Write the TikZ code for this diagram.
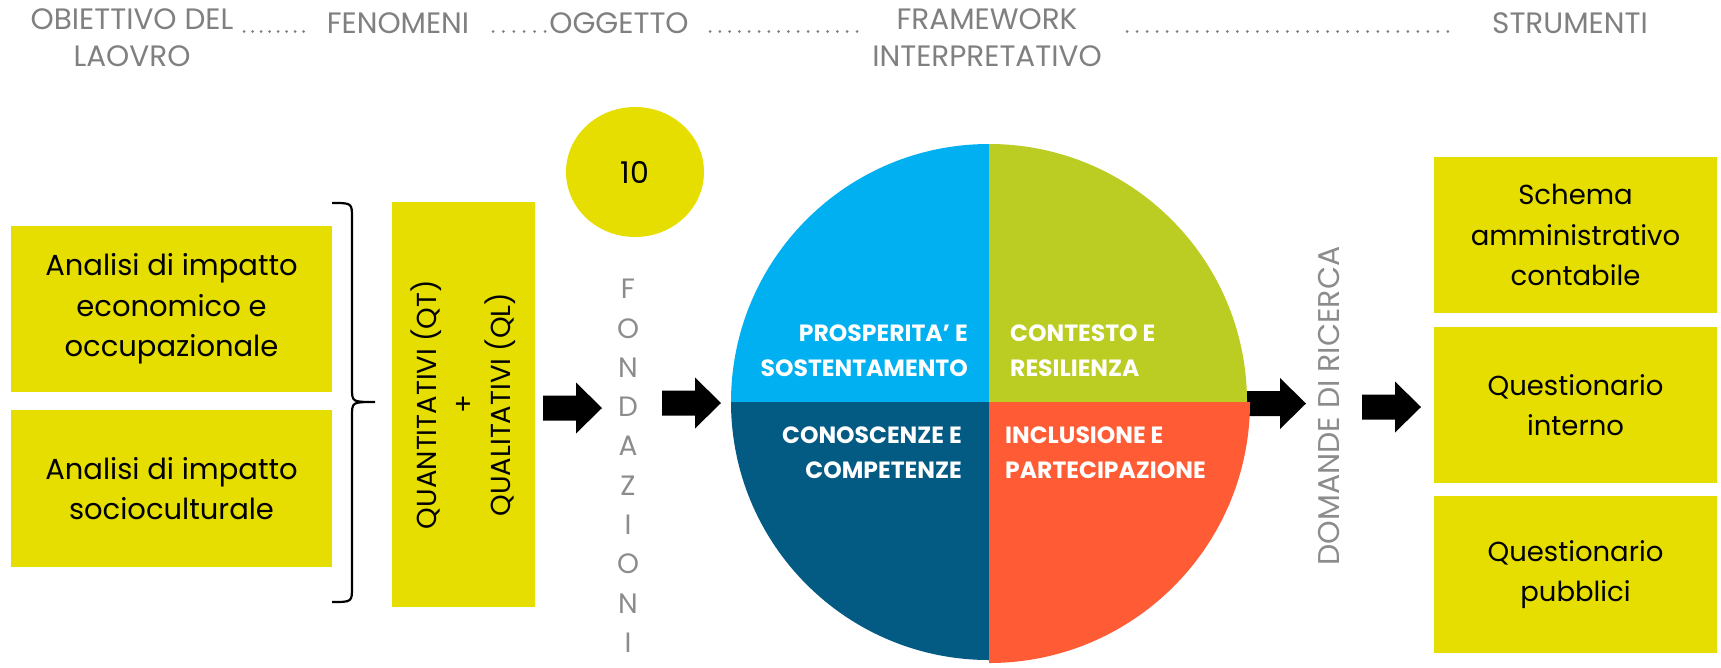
\documentclass[tikz,border=0pt]{standalone}
\usepackage{fontspec}
\setmainfont{Poppins}
\newfontfamily\hdrfont{Poppins}
\usetikzlibrary{shapes.geometric}
\definecolor{yel}{HTML}{E6DE00}
\definecolor{hgray}{HTML}{808080}
\definecolor{lgray}{HTML}{8C8C8C}
\definecolor{qblue}{HTML}{00B0F0}
\definecolor{qgreen}{HTML}{BBCD22}
\definecolor{qdark}{HTML}{035A82}
\definecolor{qorange}{HTML}{FF5B35}
\tikzset{
  pics/barrow/.style={code={\fill[black] (0,-12.5) -- (33,-12.5) -- (33,-25.5) -- (59,0) -- (33,25.5) -- (33,12.5) -- (0,12.5) -- cycle;}},
}
\begin{document}
\begin{tikzpicture}[x=1pt,y=-1pt,
  box/.style={fill=yel, draw=none, inner sep=0, align=center, font=\fontsize{27.5}{40.5}\selectfont},
  lbox/.style={box, font=\fontsize{29}{40.5}\selectfont},
  hdr/.style={text=hgray, inner sep=0, align=center, font=\hdrfont\fontsize{29.5}{37}\selectfont},
  vgray/.style={text=lgray, inner sep=0, align=center, font=\hdrfont\fontsize{28}{39.3}\selectfont},
  qlab/.style={text=white, inner sep=0, font=\bfseries\fontsize{23.5}{35}\selectfont},
  dotrow/.style={fill=hgray},
  brace/.style={line width=2.2pt, draw=black},
]
\useasboundingbox (0,0) rectangle (1721,667);

% header
\node[hdr, anchor=north] (h1) at (132,8) {OBIETTIVO DEL\\LAOVRO};
\node[hdr, anchor=base] (h2) at (398,33) {FENOMENI};
\node[hdr, anchor=base] (h3) at (619,33) {OGGETTO};
\node[hdr, anchor=north] (h4) at (987,8) {FRAMEWORK\\INTERPRETATIVO};
\node[hdr, anchor=base] (h5) at (1570,33) {STRUMENTI};
\foreach \i in {0,...,7} {\fill[dotrow] ({244+\i*8.5},31.5) circle[radius=1.5];}
\foreach \i in {0,...,5} {\fill[dotrow] ({493+\i*10.4},31.5) circle[radius=1.5];}
\foreach \i in {0,...,15} {\fill[dotrow] ({710+\i*9.8},31.5) circle[radius=1.5];}
\foreach \i in {0,...,32} {\fill[dotrow] ({1127+\i*10.03},31.5) circle[radius=1.5];}

% left boxes
\node[lbox, minimum width=321, minimum height=166] (b1) at (171.5,309) {Analisi di impatto\\economico e\\occupazionale};
\node[lbox, minimum width=321, minimum height=157] (b2) at (171.5,488.5) {Analisi di impatto\\socioculturale};

% brace
\draw[brace] (332,203) .. controls (352,203) .. (352,218) -- (352,388) .. controls (352,402) .. (375,402)
             .. controls (352,402) .. (352,416) -- (352,587) .. controls (352,602) .. (332,602);

% QT/QL box
\node[box, minimum width=143, minimum height=405] (qt) at (463.5,404.5) {};
\node[rotate=90, inner sep=0, align=center, font=\fontsize{27.5}{37}\selectfont] (qtt) at (qt.center) {QUANTITATIVI (QT)\\+\\QUALITATIVI (QL)};

% ellipse 10
\node[ellipse, fill=yel, minimum width=138, minimum height=130, inner sep=0, font=\fontsize{30}{36}\selectfont] (ten) at (635,172) {10};

% FONDAZIONI
\node[vgray, anchor=north] (fond) at (628,279) {F\\O\\N\\D\\A\\Z\\I\\O\\N\\I};

% arrows
\pic (a1) at (543,408) {barrow};
\pic (a2) at (662,403) {barrow};
\pic (a3) at (1247,403.5) {barrow};
\pic (a4) at (1362,407) {barrow};

% wheel
\node[circle, minimum size=516, inner sep=0] (wheel) at (989,402) {};
\begin{scope}[shift={(wheel.center)}, x=1pt, y=1pt]
  \fill[qblue] (0,0) -- (-258,0) arc[start angle=180, end angle=90, radius=258] -- cycle;
  \fill[qgreen] (0,0) -- (0,258) arc[start angle=90, end angle=0, radius=258] -- cycle;
  \fill[qdark] (0,0) -- (-258,0) arc[start angle=180, end angle=270, radius=258] -- cycle;
  \fill[qorange] (0,0) -- (0,-261) arc[start angle=270, end angle=360, radius=261] -- cycle;
\end{scope}
\node[qlab, align=right, anchor=east] (p1) at (968,351) {PROSPERITA’ E\\SOSTENTAMENTO};
\node[qlab, align=left, anchor=west] (p2) at (1010,351) {CONTESTO E\\RESILIENZA};
\node[qlab, align=right, anchor=east] (p3) at (962,452.5) {CONOSCENZE E\\COMPETENZE};
\node[qlab, align=left, anchor=west] (p4) at (1005,452.5) {INCLUSIONE E\\PARTECIPAZIONE};

% DOMANDE DI RICERCA
\node[vgray, rotate=90, font=\hdrfont\fontsize{30}{36}\selectfont] (dom) at (1329,406) {DOMANDE DI RICERCA};

% right boxes
\node[box, minimum width=283, minimum height=156] (r1) at (1575.5,235) {Schema\\amministrativo\\contabile};
\node[box, minimum width=283, minimum height=156] (r2) at (1575.5,405) {Questionario\\interno};
\node[box, minimum width=283, minimum height=157] (r3) at (1575.5,574.5) {Questionario\\pubblici};
\end{tikzpicture}
\end{document}
